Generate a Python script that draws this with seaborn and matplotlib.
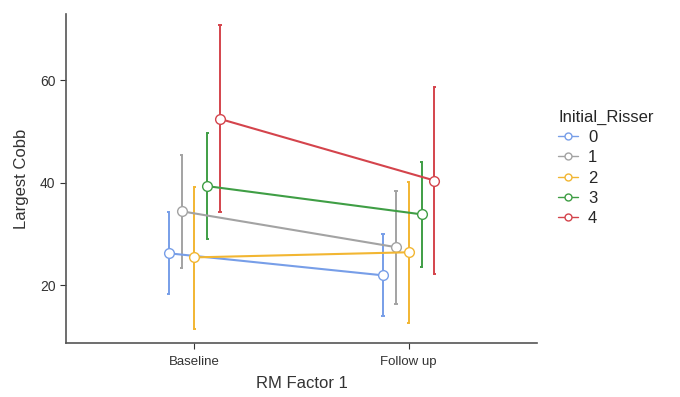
import matplotlib
matplotlib.use('Agg')

import numpy as np
import pandas as pd
import matplotlib.pyplot as plt
import seaborn as sns

# data
time_points = ['Baseline', 'Follow up']
risser = ['0', '1', '2', '3', '4']

mean_baseline = [26.2, 34.4, 25.4, 39.3, 52.4]
low_baseline = [18.2, 23.4, 11.5, 29.0, 34.2]
high_baseline = [34.3, 45.4, 39.2, 49.6, 70.7]

mean_follow = [21.9, 27.4, 26.4, 33.8, 40.4]
low_follow = [14.0, 16.4, 12.6, 23.6, 22.1]
high_follow = [29.9, 38.3, 40.2, 44.1, 58.6]

colors = ['#779ee8', '#a3a3a3', '#f2b632', '#3f9e45', '#d4444c']

rows = []
for i, r in enumerate(risser):
    rows.append({'RM Factor 1': time_points[0], 'Initial_Risser': r,
                 'mean': mean_baseline[i], 'low': low_baseline[i], 'high': high_baseline[i]})
    rows.append({'RM Factor 1': time_points[1], 'Initial_Risser': r,
                 'mean': mean_follow[i], 'low': low_follow[i], 'high': high_follow[i]})
df = pd.DataFrame(rows)

sns.set_style('ticks')
plt.rcParams['font.family'] = ['Liberation Sans', 'DejaVu Sans']

fig, ax = plt.subplots(figsize=(6.8, 3.97), dpi=100)

dodge = 0.24
offsets = np.linspace(0, dodge, len(risser)) - dodge / 2

# error bars first, so the points sit on top
for i, r in enumerate(risser):
    sub = df[df['Initial_Risser'] == r]
    xs = np.arange(len(time_points)) + offsets[i]
    ax.vlines(xs, sub['low'], sub['high'], color=colors[i], lw=1.4, zorder=1)
    ax.hlines(sub['low'], xs - 0.008, xs + 0.008, color=colors[i], lw=1.4, zorder=1)
    ax.hlines(sub['high'], xs - 0.008, xs + 0.008, color=colors[i], lw=1.4, zorder=1)

sns.pointplot(data=df, x='RM Factor 1', y='mean', hue='Initial_Risser',
              hue_order=risser, order=time_points, palette=colors,
              dodge=dodge, errorbar=None, markers='o', linewidth=1.5,
              markersize=7, ax=ax)

for ln in ax.lines:
    ln.set_markerfacecolor('white')
    ln.set_markeredgewidth(1.0)
    ln.set_zorder(3)

ax.set_xlim(-0.6, 1.6)
ax.set_ylim(8.7, 72.9)
ax.set_yticks([20, 40, 60])
ax.set_xlabel('RM Factor 1', fontsize=12, color='#333333', labelpad=6)
ax.set_ylabel('Largest Cobb', fontsize=12, color='#333333', labelpad=8)
ax.tick_params(axis='x', labelsize=9.5, colors='#333333', length=4, pad=5)
ax.tick_params(axis='y', labelsize=10, colors='#333333', length=4)
for s in ['left', 'bottom']:
    ax.spines[s].set_color('#555555')
    ax.spines[s].set_linewidth(1.2)
sns.despine(ax=ax)

handles, labels = ax.get_legend_handles_labels()
for h in handles:
    h.set_markerfacecolor('white')
    h.set_markersize(5)
    h.set_linewidth(1.0)
ax.legend(handles, labels, title='Initial_Risser', loc='upper left',
          bbox_to_anchor=(1.03, 0.73), frameon=False, fontsize=12,
          title_fontsize=12, handlelength=1.2, handletextpad=0.6,
          labelspacing=0.32, borderaxespad=0, alignment='left')

fig.subplots_adjust(left=0.097, right=0.79, top=0.965, bottom=0.136)
fig.savefig('out.png', dpi=100)
